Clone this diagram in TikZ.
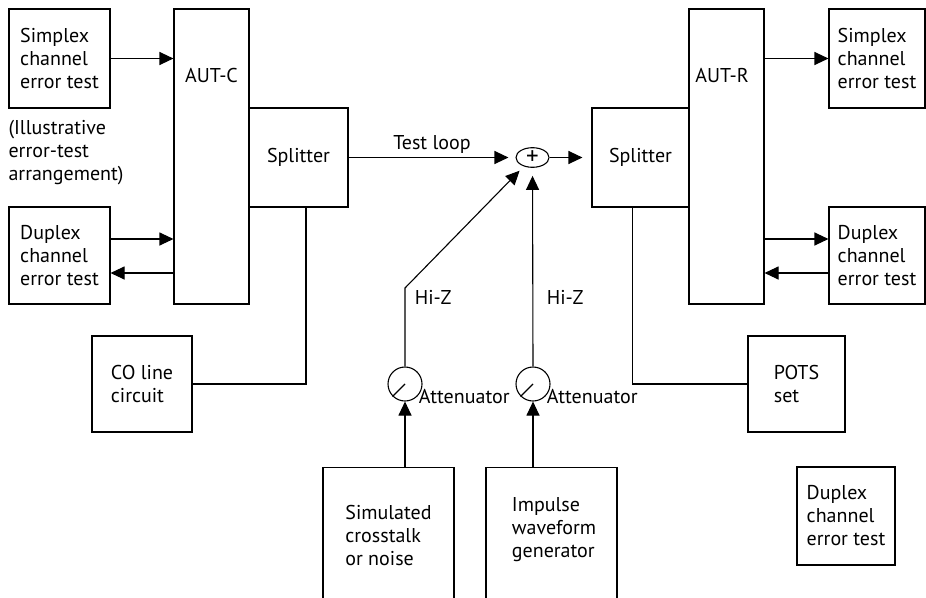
\documentclass[tikz,border=0pt]{standalone}
\usepackage{fontspec}
\setmainfont{PT Sans}
\usetikzlibrary{arrows.meta}
\usetikzlibrary{shapes.geometric}

\begin{document}
\begin{tikzpicture}[x=1pt,y=-1pt,line width=1.1pt,
        >={Triangle[length=14pt,width=13pt]},
        font=\fontsize{20}{23}\selectfont,
        box/.style={draw,align=left,inner sep=0pt},
        tall/.style={box,minimum width=75pt,minimum height=295pt},
        dial/.style={draw,circle,minimum size=34pt,inner sep=0pt}]
        \clip (0,0) rectangle (926,597);
        \node[box,minimum width=101pt,minimum height=99pt] (simpc) at (59.5,58.5) {Simplex\\channel\\error test};
        \node[tall] (autc) at (211.5,156.5) {};
        \node (autcl) at (211.5,75) {AUT-C};
        \node[box,minimum width=101pt,minimum height=97pt] (duplc) at (59.5,255.5) {Duplex\\channel\\error test};
        \node[box,minimum width=99pt,minimum height=99pt] (splc) at (298.5,157.5) {Splitter};
        \node[box,minimum width=100pt,minimum height=96pt] (colc) at (142,384) {CO line\\circuit};
        \node[align=left,anchor=west,inner sep=0pt] (note) at (8,153) {(Illustrative\\error-test\\arrangement)};
        \node[draw,ellipse,minimum width=33pt,minimum height=19pt,inner sep=0pt] (sum) at (532.5,157.5) {\fontsize{25}{25}\selectfont +};
        \node[box,minimum width=97pt,minimum height=99pt] (splr) at (640.5,157.5) {Splitter};
        \node[tall] (autr) at (726.5,156.5) {};
        \node (autrl) at (722,75) {AUT-R};
        \node[box,minimum width=96pt,minimum height=99pt] (simpr) at (877,58.5) {Simplex\\channel\\error test};
        \node[box,minimum width=96pt,minimum height=97pt] (duplr) at (877,255.5) {Duplex\\channel\\error test};
        \node[box,minimum width=97pt,minimum height=96pt] (pots) at (796.5,384) {POTS\\set};
        \node[box,minimum width=98pt,minimum height=98pt] (dupb) at (846,516) {Duplex\\channel\\error test};
        \node[dial] (att1) at (405,384) {};
        \node[dial] (att2) at (533,384) {};
        \draw (att1.center) -- (att1.south west);
        \draw (att2.center) -- (att2.south west);
        \node[anchor=west,inner sep=1pt] (attl1) at (att1.south east) {Attenuator};
        \node[anchor=west,inner sep=1pt] (attl2) at (att2.south east) {Attenuator};
        \node[box,minimum width=131pt,minimum height=140pt,anchor=north] (noise) at (388.5,467) {};
        \node[align=left] (noisel) at (388.5,535) {Simulated\\crosstalk\\or noise};
        \node[box,minimum width=131pt,minimum height=140pt,anchor=north] (impg) at (551.5,467) {};
        \node[align=left] (impgl) at (554,530) {Impulse\\waveform\\generator};
        \coordinate (bend) at (405,288);
        \node[anchor=west] (hiz1) at (411,297) {Hi-Z};
        \node[anchor=west] (hiz2) at (543,297) {Hi-Z};

        \draw[->] (simpc.east) -- (simpc.east -| autc.west);
        \draw[->] ([yshift=16.5pt]duplc.east) -- ([yshift=16.5pt]duplc.east -| autc.west);
        \draw[<-] ([yshift=-17.5pt]duplc.east) -- ([yshift=-17.5pt]duplc.east -| autc.west);
        \draw[->,shorten >=7pt] (splc.east) -- node[above] {Test loop} (sum.west);
        \draw[->,shorten >=9pt] (sum.east) -- (splr.west);
        \draw[->] (simpr.west -| autr.east) -- (simpr.west);
        \draw[->] ([yshift=16.5pt]duplr.west -| autr.east) -- ([yshift=16.5pt]duplr.west);
        \draw[<-] ([yshift=-17.5pt]duplr.west -| autr.east) -- ([yshift=-17.5pt]duplr.west);
        \draw (colc.east) -| ([xshift=7.5pt]splc.south);
        \draw (pots.west) -| ([xshift=-8pt]splr.south);
        \draw[->,shorten >=6pt] (att1.north) -- (bend) -- (sum);
        \draw[->,shorten >=8pt] (att2.north) -- (sum.south);
        \draw[->] (att1 |- noise.north) -- (att1.south);
        \draw[->] (att2 |- impg.north) -- (att2.south);
    \end{tikzpicture}
\end{document}
